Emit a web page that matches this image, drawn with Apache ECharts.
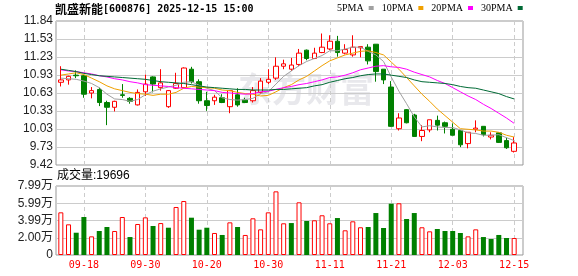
<!DOCTYPE html>
<html><head><meta charset="utf-8">
<script src="https://cdn.jsdelivr.net/npm/echarts@6/dist/echarts.min.js"></script>
<style>html,body{margin:0;padding:0;background:#fff}#c{width:578px;height:276px}</style>
</head><body><div id="c"></div>
<script>
const dates = ['09-15','09-16','09-17','09-18','09-19','09-22','09-23','09-24','09-25','09-26','09-29','09-30',
'10-09','10-10','10-13','10-14','10-15','10-16','10-17','10-20','10-21','10-22','10-23','10-24','10-27','10-28','10-29','10-30','10-31',
'11-03','11-04','11-05','11-06','11-07','11-10','11-11','11-12','11-13','11-14','11-17','11-18','11-19','11-20','11-21','11-24','11-25','11-26','11-27','11-28',
'12-01','12-02','12-03','12-04','12-05','12-08','12-09','12-10','12-11','12-12','12-15'];
const tickDates = ['09-18','09-30','10-20','10-30','11-11','11-21','12-03','12-15'];
const priceTickLabels = ['9.42','9.73','10.03','10.33','10.63','10.93','11.23','11.53','11.84'];
const volumeTickLabels = ['0','2.00万','3.99万','5.99万','7.99万'];

const openP = [10.81,10.85,10.93,10.92,10.63,10.69,10.47,10.39,10.60,10.54,
10.43,10.65,10.90,10.72,10.40,10.71,10.72,11.03,10.82,10.50,
10.50,10.55,10.40,10.60,10.51,10.50,10.64,10.81,10.88,11.08,
11.03,11.11,11.35,11.21,11.31,11.37,11.50,11.30,11.27,11.39,
11.40,11.45,11.03,10.73,10.03,10.35,10.26,9.90,10.01,10.17,
10.13,10.02,10.00,9.78,10.02,10.07,9.89,9.96,9.83,9.65];
const closeP = [10.85,10.91,10.92,10.61,10.67,10.47,10.39,10.49,10.59,10.49,
10.64,10.78,10.78,10.80,10.67,10.79,11.05,10.82,10.50,10.42,
10.56,10.47,10.67,10.43,10.47,10.67,10.83,10.86,11.08,11.12,
11.10,11.30,11.21,11.30,11.40,11.50,11.31,11.36,11.40,11.41,
11.17,10.99,10.85,10.07,10.21,10.13,9.90,10.00,10.18,10.09,
10.07,9.92,9.76,9.97,10.04,9.93,9.92,9.80,9.71,9.79];
const lowP = [10.74,10.77,10.88,10.55,10.54,10.41,10.09,10.32,10.55,10.45,
10.42,10.58,10.64,10.67,10.38,10.70,10.72,10.79,10.45,10.33,
10.43,10.46,10.29,10.40,10.46,10.47,10.61,10.78,10.85,11.03,
11.00,11.08,11.18,11.20,11.30,11.35,11.24,11.28,11.24,11.23,
11.11,10.82,10.78,10.06,10.00,10.12,9.90,9.82,9.97,10.00,
9.95,9.92,9.72,9.70,9.97,9.90,9.85,9.79,9.69,9.63];
const highP = [11.08,10.92,11.01,10.93,10.73,10.72,10.50,10.50,10.78,10.56,
10.69,10.94,10.91,11.03,10.68,10.97,11.06,11.07,10.86,10.65,
10.60,10.61,10.68,10.71,10.55,10.73,10.88,11.03,11.23,11.19,
11.22,11.37,11.36,11.39,11.63,11.60,11.59,11.45,11.60,11.42,
11.45,11.45,11.03,10.83,10.29,10.36,10.28,10.09,10.18,10.25,
10.15,10.12,10.00,9.97,10.17,10.07,9.97,9.96,9.88,9.89];

const ma5 = [10.88,10.87,10.86,10.83,10.79,10.72,10.61,10.53,10.52,10.49,
10.52,10.60,10.66,10.70,10.73,10.76,10.81,10.82,10.76,10.71,
10.67,10.55,10.52,10.51,10.52,10.54,10.62,10.65,10.78,10.91,
11.00,11.09,11.16,11.21,11.26,11.34,11.34,11.37,11.40,11.40,
11.33,11.27,11.16,10.90,10.66,10.45,10.23,10.06,10.08,10.06,
10.05,10.05,10.01,9.96,9.95,9.92,9.92,9.93,9.88,9.83];
const ma10 = [10.93,10.95,10.97,10.94,10.88,10.82,10.75,10.70,10.67,10.64,
10.62,10.61,10.59,10.61,10.61,10.64,10.71,10.74,10.73,10.72,
10.71,10.68,10.67,10.64,10.62,10.61,10.58,10.59,10.65,10.72,
10.77,10.85,10.91,11.00,11.09,11.17,11.22,11.27,11.30,11.33,
11.34,11.31,11.27,11.15,11.03,10.89,10.75,10.61,10.49,10.36,
10.25,10.14,10.03,10.02,10.01,9.99,9.99,9.97,9.92,9.89];
const ma20 = [11.02,11.00,10.99,10.97,10.95,10.92,10.90,10.87,10.85,10.82,
10.80,10.77,10.76,10.75,10.74,10.72,10.71,10.70,10.69,10.68,
10.67,10.64,10.63,10.62,10.61,10.62,10.65,10.66,10.69,10.72,
10.74,10.77,10.79,10.82,10.85,10.89,10.90,10.93,10.97,11.02,
11.05,11.08,11.09,11.07,11.06,11.03,10.98,10.94,10.90,10.84,
10.79,10.72,10.65,10.58,10.52,10.44,10.37,10.29,10.21,10.12];
const ma30 = [11.03,11.01,10.99,10.96,10.94,10.92,10.91,10.90,10.89,10.88,
10.87,10.86,10.84,10.82,10.81,10.80,10.79,10.77,10.75,10.73,
10.72,10.71,10.70,10.69,10.69,10.68,10.68,10.68,10.69,10.69,
10.70,10.71,10.72,10.75,10.77,10.81,10.84,10.87,10.89,10.92,
10.94,10.95,10.95,10.93,10.91,10.89,10.85,10.82,10.81,10.80,
10.79,10.77,10.74,10.72,10.71,10.68,10.65,10.62,10.57,10.53];

const volume = [49400,35500,25800,44000,21600,27800,32400,27800,44000,20800,
35900,43600,33600,37000,31600,55600,62500,43200,29300,31600,
25500,23200,37800,32400,23200,42500,29700,49400,73700,36700,
37000,61000,39400,40200,46000,36700,42800,28600,39000,32100,
32400,48600,31300,59400,59900,41700,48600,32100,27400,30100,
27800,27800,25500,21600,29700,20800,18500,23200,19700,19696];
const volumeUp = [1,1,0,0,1,0,0,1,1,0,
1,1,0,1,0,1,1,0,0,0,
1,0,1,0,1,1,1,1,1,1,
0,1,0,1,1,1,0,1,1,1,
0,0,0,0,1,0,0,1,1,0,
0,0,0,1,1,0,0,0,0,1];

const RED = '#ff0000', GREEN = '#008000';
const candleData = dates.map((d, i) => [openP[i], closeP[i], lowP[i], highP[i]]);
const volData = volume.map((v, i) => ({
  value: v,
  itemStyle: volumeUp[i] ? {color: '#ffffff', borderColor: RED, borderWidth: 1}
                         : {color: GREEN, borderColor: GREEN, borderWidth: 0}
}));
const showTick = (idx, val) => tickDates.indexOf(val) >= 0;
const VMAX = 79900;

const chart = echarts.init(document.getElementById('c'));
const option = {
  animation: false,
  backgroundColor: '#ffffff',
  title: [
    {text: '{c|凯盛新能}{m|[600876] 2025-12-15 15:00}', left: 55, top: 3, padding: 0,
     textStyle: {rich: {c: {fontFamily: 'Noto Sans CJK SC', fontSize: 12, color: '#000'},
                        m: {fontFamily: 'DejaVu Sans Mono', fontSize: 10, color: '#000'}}}},
    {text: '成交量:' + volume[volume.length - 1], left: 57, top: 170, padding: 0,
     textStyle: {fontFamily: 'Liberation Sans, Noto Sans CJK SC', fontSize: 12, fontWeight: 'normal', color: '#000'}}
  ],
  legend: {
    data: ['5PMA', '10PMA', '20PMA', '30PMA'], left: 337, top: 3, padding: 0,
    align: 'right', icon: 'rect', itemWidth: 5, itemHeight: 4, itemGap: 8,
    textStyle: {fontFamily: 'Liberation Serif', fontSize: 10, color: '#000'}
  },
  graphic: [{
    type: 'text', left: 238, top: 72, z: 0, silent: true,
    style: {text: '东方财富', font: 'bold 34px "Noto Sans CJK SC"', fill: '#e8e8ec'}
  }],
  grid: [
    {left: 56, top: 21, width: 467, height: 144, show: true, borderColor: '#999', borderWidth: 1},
    {left: 57, top: 21, width: 461, height: 144},
    {left: 56, top: 186, width: 467, height: 69, show: true, borderColor: '#999', borderWidth: 1},
    {left: 57, top: 186, width: 461, height: 69}
  ],
  xAxis: [
    {type: 'value', gridIndex: 0, min: 0, max: 1, show: false},
    {type: 'category', gridIndex: 1, data: dates, boundaryGap: true,
     axisLine: {show: false}, axisTick: {show: false}, axisLabel: {show: false},
     splitLine: {show: true, interval: showTick, alignWithLabel: true,
                 lineStyle: {color: '#cccccc', type: [4, 3], width: 1}}},
    {type: 'value', gridIndex: 2, min: 0, max: 1, show: false},
    {type: 'category', gridIndex: 3, data: dates, boundaryGap: true,
     axisLine: {show: false}, axisTick: {show: false},
     axisLabel: {show: true, interval: showTick, color: RED, margin: 5,
                 fontFamily: 'DejaVu Sans Mono', fontSize: 10},
     splitLine: {show: true, interval: showTick, alignWithLabel: true,
                 lineStyle: {color: '#cccccc', type: [4, 3], width: 1}}}
  ],
  yAxis: [
    {type: 'value', gridIndex: 0, min: 0, max: 8, interval: 1,
     axisLine: {show: false}, axisTick: {show: false},
     axisLabel: {margin: 3, color: '#222', fontFamily: 'Liberation Sans', fontSize: 12,
                 formatter: v => priceTickLabels[Math.round(v)]},
     splitLine: {show: true, lineStyle: {color: '#cccccc', width: 1}}},
    {type: 'value', gridIndex: 1, min: 9.42, max: 11.84, show: false, splitLine: {show: false}},
    {type: 'value', gridIndex: 2, min: 0, max: 4, interval: 1,
     axisLine: {show: false}, axisTick: {show: false},
     axisLabel: {margin: 3, color: '#222', fontFamily: 'Liberation Sans, Noto Sans CJK SC', fontSize: 12,
                 formatter: v => volumeTickLabels[Math.round(v)]},
     splitLine: {show: true, lineStyle: {color: '#cccccc', width: 1}}},
    {type: 'value', gridIndex: 3, min: 0, max: VMAX, show: false, splitLine: {show: false}}
  ],
  series: [
    {type: 'candlestick', name: 'K', xAxisIndex: 1, yAxisIndex: 1, data: candleData, barWidth: 5,
     itemStyle: {color: '#ffffff', color0: GREEN, borderColor: RED, borderColor0: GREEN, borderWidth: 1}},
    {type: 'line', name: '5PMA', xAxisIndex: 1, yAxisIndex: 1, data: ma5, symbol: 'none',
     lineStyle: {width: 1, color: '#a0a0a0'}, itemStyle: {color: '#a0a0a0'}},
    {type: 'line', name: '10PMA', xAxisIndex: 1, yAxisIndex: 1, data: ma10, symbol: 'none',
     lineStyle: {width: 1, color: '#f0a000'}, itemStyle: {color: '#f0a000'}},
    {type: 'line', name: '20PMA', xAxisIndex: 1, yAxisIndex: 1, data: ma20, symbol: 'none',
     lineStyle: {width: 1, color: '#ff00ff'}, itemStyle: {color: '#ff00ff'}},
    {type: 'line', name: '30PMA', xAxisIndex: 1, yAxisIndex: 1, data: ma30, symbol: 'none',
     lineStyle: {width: 1, color: '#006a35'}, itemStyle: {color: '#006a35'}},
    {type: 'bar', name: 'VOL', xAxisIndex: 3, yAxisIndex: 3, data: volData, barWidth: 5}
  ]
};
chart.setOption(option);
</script>
</body></html>
